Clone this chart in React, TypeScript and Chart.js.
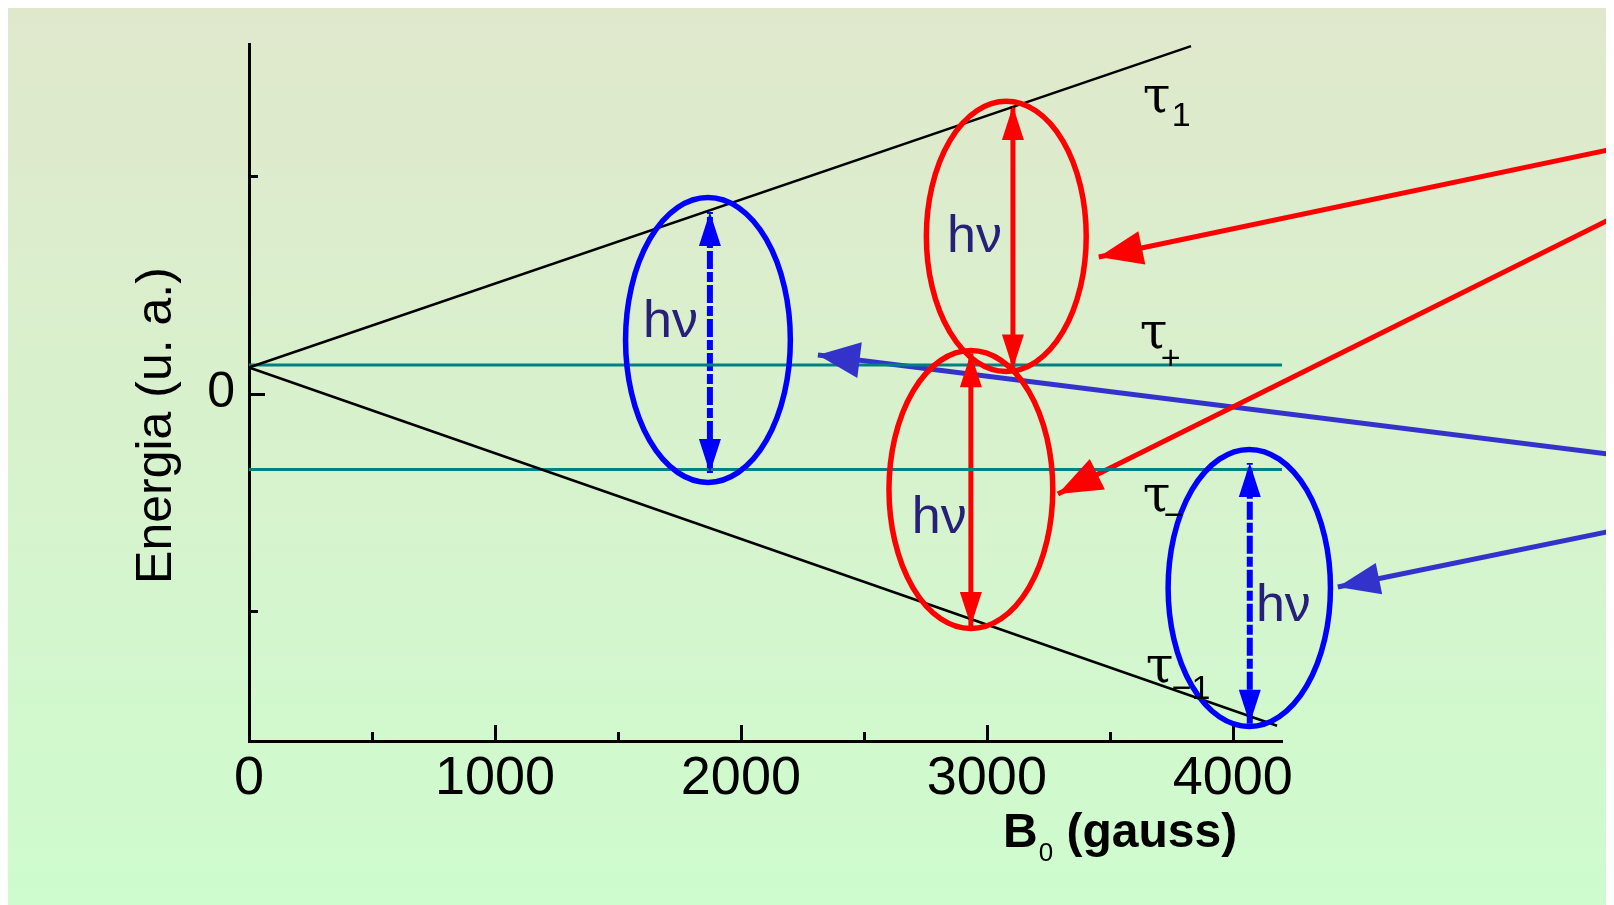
import React, { useEffect, useRef } from 'react';
import { Chart, registerables } from 'chart.js';

Chart.register(...registerables);

// ---- axis ticks ----
const xTickLabels = [0, 1000, 2000, 3000, 4000];
const xMinorTicks = [500, 1500, 2500, 3500];
const yTickLabels = [0];
const yMinorTicks = [-1, 1];

// ---- energy levels ----
const upperLevel = [{ x: 0, y: 0.12 }, { x: 3830, y: 1.6 }];
const lowerLevel = [{ x: 0, y: 0.12 }, { x: 4180, y: -1.53 }];
const tauPlusLevel = [{ x: 0, y: 0.132 }, { x: 4200, y: 0.132 }];
const tauMinusLevel = [{ x: 0, y: -0.35 }, { x: 4200, y: -0.35 }];

// ---- transitions (vertical double arrows) ----
const blueTransitionA = [{ x: 1874, y: -0.366 }, { x: 1874, y: 0.836 }];
const redTransitionA = [{ x: 3106, y: 0.116 }, { x: 3106, y: 1.324 }];
const redTransitionB = [{ x: 2935, y: -1.07 }, { x: 2935, y: 0.186 }];
const blueTransitionB = [{ x: 4069, y: -1.52 }, { x: 4069, y: -0.32 }];

// ---- pointer arrows coming from the right (start -> tip) ----
const redPointerA = [{ x: 5560, y: 1.13 }, { x: 3455, y: 0.629 }];
const redPointerB = [{ x: 5560, y: 0.818 }, { x: 3289, y: -0.462 }];
const bluePointerA = [{ x: 5560, y: -0.283 }, { x: 2313, y: 0.178 }];
const bluePointerB = [{ x: 5560, y: -0.628 }, { x: 4427, y: -0.891 }];

// ---- ellipses (center and semi-axes in data units) ----
const ellipseCx = [1866, 3079, 2935, 4067];
const ellipseCy = [0.247, 0.724, -0.442, -0.895];
const ellipseRx = [335, 325, 333, 330];
const ellipseRy = [0.656, 0.622, 0.64, 0.638];
const ellipseColors = ['#0000ff', '#ff0000', '#ff0000', '#0000ff'];

// ---- "hν" labels (left, baseline in data units) ----
const hvX = [1610, 2846, 2703, 4102];
const hvY = [0.261, 0.652, -0.642, -1.047];
const hvText = 'hν';

// ---- level labels ----
const tauText = ['τ', 'τ', 'τ', 'τ'];
const tauSub = ['1', '+', '−', '−1'];
const tauX = [3642, 3630, 3642, 3654];
const tauY = [1.297, 0.21, -0.541, -1.328];

const yTitle = 'Energia (u. a.)';
const xTitleMain = 'B';
const xTitleSub = '0';
const xTitleRest = ' (gauss)';

const SANS = '"Liberation Sans", Arial, sans-serif';
const SERIF = '"DejaVu Serif", "Liberation Serif", serif';

function drawHead(ctx: CanvasRenderingContext2D, tipX: number, tipY: number, fromX: number, fromY: number, len: number, half: number, color: string) {
  const ang = Math.atan2(tipY - fromY, tipX - fromX);
  const bx = tipX - Math.cos(ang) * len;
  const by = tipY - Math.sin(ang) * len;
  const px = -Math.sin(ang) * half;
  const py = Math.cos(ang) * half;
  ctx.save();
  ctx.fillStyle = color;
  ctx.beginPath();
  ctx.moveTo(tipX, tipY);
  ctx.lineTo(bx + px, by + py);
  ctx.lineTo(bx - px, by - py);
  ctx.closePath();
  ctx.fill();
  ctx.restore();
}

const decorPlugin = {
  id: 'decor',
  beforeDraw(chart: any) {
    const { ctx, width, height } = chart;
    const g = ctx.createLinearGradient(0, 0, 0, height);
    g.addColorStop(0, 'rgb(224,232,204)');
    g.addColorStop(1, 'rgb(206,252,206)');
    ctx.save();
    ctx.fillStyle = g;
    ctx.fillRect(0, 0, width, height);
    ctx.restore();
  },
  afterDatasetsDraw(chart: any) {
    const { ctx } = chart;
    const xs = chart.scales.x;
    const ys = chart.scales.y;
    const area = chart.chartArea;

    // tick marks (inside)
    ctx.save();
    ctx.strokeStyle = '#000';
    ctx.lineWidth = 3;
    ctx.beginPath();
    xTickLabels.forEach((v) => {
      const px = Math.round(xs.getPixelForValue(v)) + 0.5;
      ctx.moveTo(px, area.bottom);
      ctx.lineTo(px, area.bottom - 16);
    });
    xMinorTicks.forEach((v) => {
      const px = Math.round(xs.getPixelForValue(v)) + 0.5;
      ctx.moveTo(px, area.bottom);
      ctx.lineTo(px, area.bottom - 9);
    });
    yTickLabels.forEach((v) => {
      const py = Math.round(ys.getPixelForValue(v)) + 0.5;
      ctx.moveTo(area.left, py);
      ctx.lineTo(area.left + 16, py);
    });
    yMinorTicks.forEach((v) => {
      const py = Math.round(ys.getPixelForValue(v)) + 0.5;
      ctx.moveTo(area.left, py);
      ctx.lineTo(area.left + 9, py);
    });
    ctx.stroke();
    ctx.restore();

    // arrowheads
    chart.data.datasets.forEach((ds: any, i: number) => {
      if (!ds.arrow) return;
      const pts = chart.getDatasetMeta(i).data;
      const a = pts[0];
      const b = pts[pts.length - 1];
      drawHead(ctx, b.x, b.y, a.x, a.y, ds.headLen, ds.headHalf, ds.borderColor);
      if (ds.arrow === 'both') drawHead(ctx, a.x, a.y, b.x, b.y, ds.headLen, ds.headHalf, ds.borderColor);
    });

    // ellipses
    ellipseCx.forEach((cx, i) => {
      const px = xs.getPixelForValue(cx);
      const py = ys.getPixelForValue(ellipseCy[i]);
      const rx = Math.abs(xs.getPixelForValue(cx + ellipseRx[i]) - px);
      const ry = Math.abs(ys.getPixelForValue(ellipseCy[i] + ellipseRy[i]) - py);
      ctx.save();
      ctx.strokeStyle = ellipseColors[i];
      ctx.lineWidth = 5.5;
      ctx.beginPath();
      ctx.ellipse(px, py, rx, ry, 0, 0, Math.PI * 2);
      ctx.stroke();
      ctx.restore();
    });

    // hν labels
    ctx.save();
    ctx.fillStyle = '#26207a';
    ctx.font = `52px ${SANS}`;
    ctx.textAlign = 'left';
    ctx.textBaseline = 'alphabetic';
    hvX.forEach((x, i) => {
      ctx.fillText(hvText, xs.getPixelForValue(x) - 2, ys.getPixelForValue(hvY[i]));
    });
    ctx.restore();

    // τ labels
    ctx.save();
    ctx.fillStyle = '#000';
    ctx.textAlign = 'left';
    ctx.textBaseline = 'alphabetic';
    tauX.forEach((x, i) => {
      const px = xs.getPixelForValue(x);
      const py = ys.getPixelForValue(tauY[i]);
      ctx.font = `50px ${SERIF}`;
      ctx.fillText(tauText[i], px - 2, py);
      ctx.font = `34px ${SANS}`;
      const sub = tauSub[i];
      const dy = sub === '+' ? 21 : sub === '−' ? 15 : sub === '1' ? 14 : 17;
      const dx = sub === '−1' ? 24 : sub === '1' ? 27 : 19;
      ctx.fillText(sub, px + dx, py + dy);
    });
    ctx.restore();

    // axis titles
    ctx.save();
    ctx.fillStyle = '#000';
    ctx.font = `50px ${SANS}`;
    ctx.textAlign = 'center';
    ctx.textBaseline = 'alphabetic';
    ctx.translate(area.left - 78, (area.top + area.bottom) / 2 + 33);
    ctx.rotate(-Math.PI / 2);
    ctx.fillText(yTitle, 0, 0);
    ctx.restore();

    ctx.save();
    ctx.fillStyle = '#000';
    ctx.textAlign = 'left';
    ctx.textBaseline = 'alphabetic';
    let tx = area.left + 754;
    const ty = area.bottom + 106;
    ctx.font = `bold 48px ${SANS}`;
    ctx.fillText(xTitleMain, tx, ty);
    tx += ctx.measureText(xTitleMain).width + 1;
    ctx.font = `26px ${SANS}`;
    ctx.fillText(xTitleSub, tx, ty + 14);
    tx += ctx.measureText(xTitleSub).width;
    ctx.font = `bold 48px ${SANS}`;
    ctx.fillText(xTitleRest, tx, ty);
    ctx.restore();
  },
};

function line(data: any[], color: string, width: number, extra: any = {}) {
  return {
    data,
    borderColor: color,
    backgroundColor: color,
    borderWidth: width,
    pointRadius: 0,
    showLine: true,
    fill: false,
    tension: 0,
    clip: false,
    ...extra,
  };
}

export default function App() {
  const ref = useRef<HTMLCanvasElement | null>(null);
  useEffect(() => {
    document.documentElement.style.overflow = 'hidden';
    document.body.style.overflow = 'hidden';
    const canvas = ref.current!;
    const chart = new Chart(canvas, {
      type: 'scatter',
      data: {
        datasets: [
          line(upperLevel, '#000000', 2.5),
          line(lowerLevel, '#000000', 2.5),
          line(tauPlusLevel, '#008080', 3),
          line(tauMinusLevel, '#008080', 3),
          line(blueTransitionA, '#0000ff', 6, { borderDash: [18, 3, 10, 3], arrow: 'both', headLen: 34, headHalf: 11 }),
          line(redTransitionA, '#ff0000', 5, { arrow: 'both', headLen: 34, headHalf: 11 }),
          line(redTransitionB, '#ff0000', 5, { arrow: 'both', headLen: 34, headHalf: 11 }),
          line(blueTransitionB, '#0000ff', 6, { borderDash: [18, 3, 10, 3], arrow: 'both', headLen: 34, headHalf: 11 }),
          line(redPointerA, '#ff0000', 5, { arrow: 'end', headLen: 44, headHalf: 17 }),
          line(redPointerB, '#ff0000', 5, { arrow: 'end', headLen: 44, headHalf: 17 }),
          line(bluePointerA, '#3333cc', 5, { arrow: 'end', headLen: 42, headHalf: 18 }),
          line(bluePointerB, '#3333cc', 5, { arrow: 'end', headLen: 42, headHalf: 16 }),
        ] as any,
      },
      options: {
        responsive: false,
        animation: false,
        events: [],
        layout: { padding: { top: 36, right: 332, left: 0, bottom: 0 } },
        plugins: {
          legend: { display: false },
          tooltip: { enabled: false },
          title: { display: false },
        },
        scales: {
          x: {
            type: 'linear',
            min: 0,
            max: 4200,
            grid: { display: true, drawOnChartArea: false, drawTicks: false },
            border: { display: true, color: '#000', width: 3 },
            ticks: {
              autoSkip: false,
              maxRotation: 0,
              minRotation: 0,
              padding: 6,
              color: '#000',
              font: { family: SANS, size: 54 },
              callback: (v: any) => String(v),
            },
            afterBuildTicks: (s: any) => { s.ticks = xTickLabels.map((v) => ({ value: v })); },
            afterFit: (s: any) => { s.height = 164; },
          },
          y: {
            type: 'linear',
            min: -1.6,
            max: 1.61,
            grid: { display: true, drawOnChartArea: false, drawTicks: false },
            border: { display: true, color: '#000', width: 3 },
            ticks: {
              autoSkip: false,
              padding: 14,
              color: '#000',
              font: { family: SANS, size: 50, lineHeight: 0.6 },
              callback: (v: any) => String(v),
            },
            afterBuildTicks: (s: any) => { s.ticks = yTickLabels.map((v) => ({ value: v })); },
            afterFit: (s: any) => { s.width = 241; },
          },
        },
      } as any,
      plugins: [decorPlugin],
    });
    return () => chart.destroy();
  }, []);
  return (
    <div style={{ width: 1606, height: 897 }}>
      <canvas ref={ref} width={1606} height={897} style={{ display: 'block' }} />
    </div>
  );
}
